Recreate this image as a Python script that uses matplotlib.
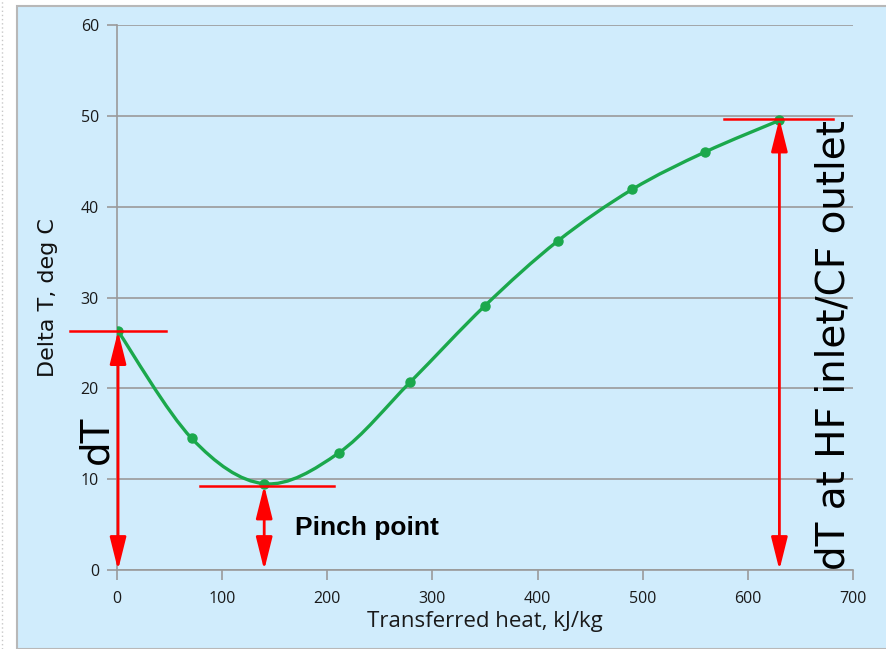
import numpy as np
import matplotlib.pyplot as plt
from matplotlib.path import Path
from matplotlib.patches import PathPatch, Rectangle

# data
heat = [1, 71, 140, 211, 279, 350, 419, 490, 559, 630]
delta_t = [26.3, 14.5, 9.5, 12.9, 20.7, 29.1, 36.2, 41.9, 46.0, 49.5]
x_ticks = [0, 100, 200, 300, 400, 500, 600, 700]
y_ticks = [0, 10, 20, 30, 40, 50, 60]

pinch_x, pinch_y = 140, 9.3
top_x, top_y = 630, 49.7

bg = '#D0ECFC'
green = '#1BA84C'
grey = '#9A9A9A'

fig = plt.figure(figsize=(8.87, 6.49), dpi=100)
fig.patch.set_facecolor('white')
fig.patches.append(Rectangle((17 / 887, 0), 1, 1 - 6 / 649, transform=fig.transFigure,
                             facecolor=bg, edgecolor='#B8B8B8', lw=1.5, zorder=-10))
fig.lines.append(plt.Line2D([2 / 887, 2 / 887], [0, 1], transform=fig.transFigure,
                            color='#C8C8C8', lw=1, ls=(0, (1, 2))))

ax = fig.add_axes([117 / 887, 79 / 649, 736 / 887, 545 / 649])
ax.set_facecolor('none')
ax.set_xlim(0, 700)
ax.set_ylim(0, 60)
ax.set_xticks(x_ticks)
ax.set_yticks(y_ticks)
for s in ['top', 'right']:
    ax.spines[s].set_visible(False)
for s in ['left', 'bottom']:
    ax.spines[s].set_color(grey)
    ax.spines[s].set_linewidth(1.2)
ax.tick_params(color=grey, width=1.2, length=7, labelsize=11.5, labelcolor='#1a1a1a', pad=6)
ax.tick_params(axis='x', pad=8)
ax.yaxis.grid(True, color=grey, lw=1.2)
ax.set_axisbelow(True)
for lab in ax.get_xticklabels() + ax.get_yticklabels():
    lab.set_family('Open Sans')

ax.set_xlabel('Transferred heat, kJ/kg', fontsize=16, family='Open Sans', color='#1a1a1a', labelpad=3)
ax.set_ylabel('Delta T, deg C', fontsize=16, family='DejaVu Sans', color='#111111', labelpad=16)

# smooth line (Catmull-Rom as bezier path)
pts = np.column_stack([heat, delta_t]).astype(float)
verts = [pts[0]]
codes = [Path.MOVETO]
t = 1 / 6
for i in range(len(pts) - 1):
    p0 = pts[i - 1] if i > 0 else pts[i]
    p1, p2 = pts[i], pts[i + 1]
    p3 = pts[i + 2] if i + 2 < len(pts) else pts[i + 1]
    verts += [p1 + (p2 - p0) * t, p2 - (p3 - p1) * t, p2]
    codes += [Path.CURVE4] * 3
ax.add_patch(PathPatch(Path(verts, codes), facecolor='none', edgecolor=green, lw=2.4, zorder=3))
ax.plot(heat, delta_t, 'o', color=green, ms=6.5, zorder=4)

# red markers
red = 'red'
ax.plot([-45, 47], [delta_t[0], delta_t[0]], color=red, lw=1.8, clip_on=False, zorder=5)
ax.plot([79, 206], [pinch_y, pinch_y], color=red, lw=1.8, clip_on=False, zorder=5)
ax.plot([577, 681], [top_y, top_y], color=red, lw=1.8, clip_on=False, zorder=5)

astyle = dict(arrowstyle='<|-|>,head_length=1.0,head_width=0.25', color=red, lw=2,
              mutation_scale=20, shrinkA=0, shrinkB=0)
for xx, yy in [(heat[0], delta_t[0]), (pinch_x, pinch_y), (top_x, top_y)]:
    ax.annotate('', xy=(xx, 0), xytext=(xx, yy), arrowprops=astyle, zorder=6, annotation_clip=False)

ax.text(-20, 14.3, 'dT', rotation=90, fontsize=28, ha='center', va='center', family='DejaVu Sans')
ax.text(169, 4.6, 'Pinch point', fontsize=19, fontweight='bold', family='Liberation Sans', va='center')
ax.text(700, 0, 'dT at HF inlet/CF outlet', rotation=90, fontsize=28, ha='right', va='bottom',
        family='DejaVu Sans')

plt.savefig('out.png', dpi=100)
